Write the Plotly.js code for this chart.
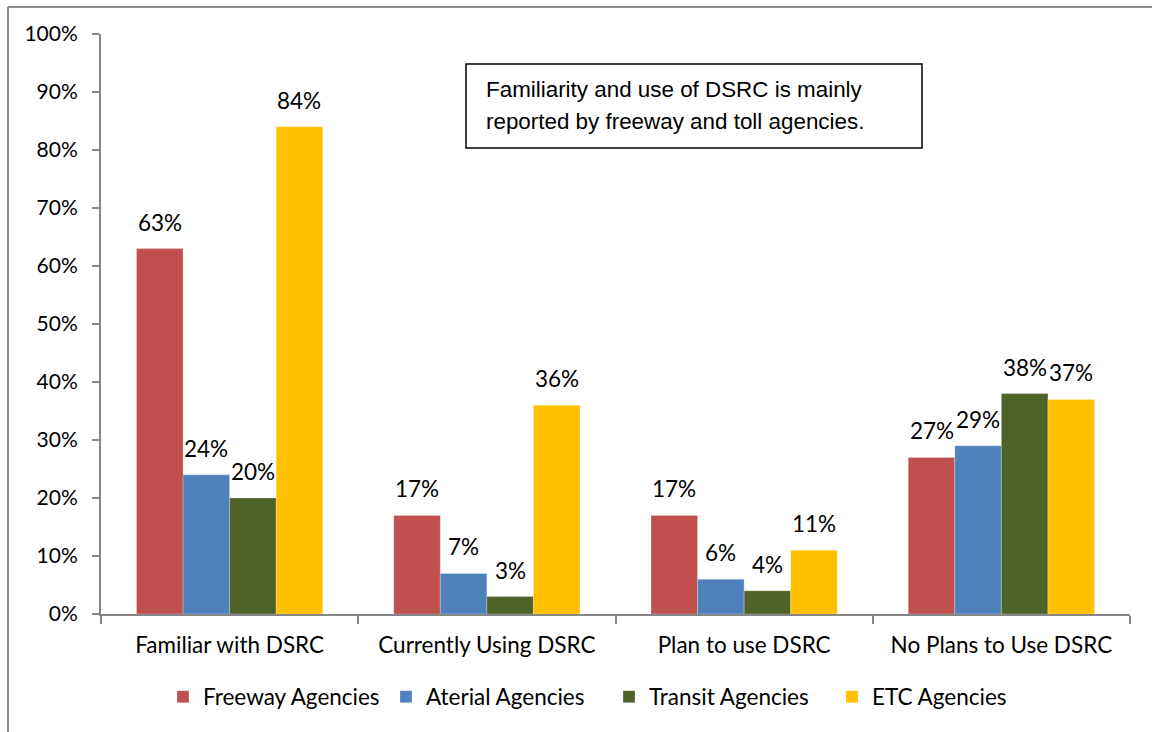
<!DOCTYPE html>
<html><head><meta charset="utf-8">
<script src="https://cdn.plot.ly/plotly-3.0.1.min.js"></script>
<style>html,body{margin:0;padding:0;background:#fff}#chart{width:1152px;height:732px}</style>
</head><body><div id="chart"></div>
<script>
const categories = ["Familiar with DSRC", "Currently Using DSRC", "Plan to use DSRC", "No Plans to Use DSRC"];
const seriesNames = ["Freeway Agencies", "Aterial Agencies", "Transit Agencies", "ETC Agencies"];
const freeway = [63, 17, 17, 27];
const aterial = [24, 7, 6, 29];
const transit = [20, 3, 4, 38];
const etc = [84, 36, 11, 37];
const colors = ["#C0504D", "#4F81BD", "#4F6228", "#FFC000"];
const noteLines = ["Familiarity and use of DSRC is mainly", "reported by freeway and toll agencies."];

const allSeries = [freeway, aterial, transit, etc];
const font = "Lato, 'Open Sans', sans-serif";
const fs = 22.5;
const bargap = 0.276;
const bw = (1 - bargap) / allSeries.length;

const traces = allSeries.map((vals, j) => ({
  type: "bar", name: seriesNames[j], x: categories, y: vals,
  marker: {color: colors[j], line: {color: "rgba(255,255,255,0.5)", width: 0.5}},
  hoverinfo: "none"
}));

const annotations = [];
allSeries.forEach((vals, j) => {
  vals.forEach((v, i) => {
    annotations.push({
      x: i + (j - (allSeries.length - 1) / 2) * bw, y: v, xref: "x", yref: "y",
      text: v + "%", showarrow: false, yanchor: "bottom", yshift: 11,
      font: {family: font, size: fs, color: "#000"}
    });
  });
});
const px = p => (p - 101) / 1029;
const py = p => (614 - p) / 580;
noteLines.forEach((t, k) => {
  annotations.push({
    xref: "paper", yref: "paper", x: px(484), y: py(89 + 32 * k), xanchor: "left", yanchor: "middle",
    text: t, showarrow: false, font: {family: "'Liberation Sans', Arial, sans-serif", size: 22.4, color: "#000"}
  });
});

const layout = {
  width: 1152, height: 732,
  margin: {l: 101, r: 22, t: 34, b: 118},
  paper_bgcolor: "#fff", plot_bgcolor: "#fff",
  barmode: "group", bargap: bargap, bargroupgap: 0,
  font: {family: font, size: fs, color: "#000"},
  showlegend: true,
  legend: {orientation: "h", x: px(163), xanchor: "left", y: py(697), yanchor: "middle",
    font: {family: font, size: fs, color: "#000"}, itemwidth: 30, traceorder: "normal",
    entrywidth: 178, entrywidthmode: "pixels"},
  xaxis: {type: "category", showline: true, linecolor: "#868686", linewidth: 2,
    ticks: "outside", tickson: "boundaries", ticklen: 8, tickcolor: "#868686", tickwidth: 2,
    ticklabelstandoff: 10,
    showgrid: false, zeroline: false, tickfont: {family: font, size: fs}},
  yaxis: {range: [0, 100], dtick: 10, ticksuffix: "%", showline: true, linecolor: "#868686", linewidth: 2,
    ticks: "outside", ticklen: 7, tickcolor: "#868686", tickwidth: 2, showgrid: false, zeroline: false,
    ticklabelstandoff: 10,
    tickfont: {family: font, size: 21}, fixedrange: true},
  annotations: annotations,
  shapes: [
    {type: "rect", xref: "paper", yref: "paper", x0: px(466), x1: px(922), y0: py(148), y1: py(64),
      line: {color: "#000", width: 1.5}, fillcolor: "rgba(0,0,0,0)", layer: "above"},
    {type: "line", xref: "paper", yref: "paper", x0: px(8), x1: px(1160), y0: py(7), y1: py(7),
      line: {color: "#8c8c8c", width: 2}},
    {type: "line", xref: "paper", yref: "paper", x0: px(8), x1: px(8), y0: py(7), y1: py(740),
      line: {color: "#8c8c8c", width: 2}}
  ]
};
Plotly.newPlot("chart", traces, layout, {staticPlot: true});
</script></body></html>
